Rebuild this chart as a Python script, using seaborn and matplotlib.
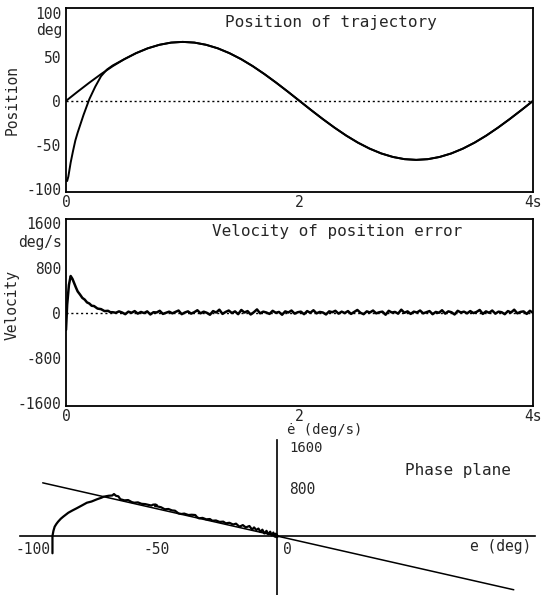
import matplotlib
matplotlib.use("Agg")
import matplotlib.pyplot as plt
import seaborn as sns
import numpy as np

# --- position of trajectory (deg) ---
ref_t = [0.0, 0.1, 0.2, 0.3, 0.4, 0.5, 0.6, 0.7, 0.8, 0.9, 1.0,
         1.1, 1.2, 1.3, 1.4, 1.5, 1.6, 1.7, 1.8, 1.9, 2.0,
         2.1, 2.2, 2.3, 2.4, 2.5, 2.6, 2.7, 2.8, 2.9, 3.0,
         3.1, 3.2, 3.3, 3.4, 3.5, 3.6, 3.7, 3.8, 3.9, 4.0]
ref_pos = [0, 10.5, 20.7, 30.4, 39.4, 47.4, 54.2, 59.7, 63.7, 66.2, 67.0,
           66.2, 63.7, 59.7, 54.2, 47.4, 39.4, 30.4, 20.7, 10.5, 0,
           -10.5, -20.7, -30.4, -39.4, -47.4, -54.2, -59.7, -63.7, -66.2, -67.0,
           -66.2, -63.7, -59.7, -54.2, -47.4, -39.4, -30.4, -20.7, -10.5, 0]
act_t = [0.0, 0.01, 0.02, 0.04, 0.06, 0.08, 0.1, 0.12, 0.15, 0.2, 0.25, 0.3, 0.35, 0.4] + ref_t[5:]
act_pos = [-90, -91, -86, -70, -57, -45, -36, -28, -16, 2, 16, 28, 35.5, 40.2] + ref_pos[5:]

# --- velocity of position error (deg/s) ---
vel_t0 = [0.0, 0.01, 0.025, 0.04, 0.055, 0.07, 0.085, 0.1, 0.12, 0.14,
          0.16, 0.18, 0.2, 0.22, 0.24, 0.27, 0.3, 0.33, 0.36, 0.38]
vel_v0 = [-300, 150, 500, 660, 610, 530, 455, 385, 330, 270,
          240, 190, 170, 130, 125, 80, 70, 35, 40, 15]
vel_noise = [15, 5, 30, 10, -20, 25, 5, 35, -10, 20,
             0, 30, -25, 15, 10, 40, -15, 5, 25, -5,
             20, 45, -20, 10, 30, -10, 15, 50, -5, 25,
             5, -30, 35, 10, 60, -15, 20, 45, 0, 30,
             -20, 55, 10, 35, -25, 15, 65, -5, 25, 10,
             -15, 40, 5, 20, -30, 30, 10, 45, -10, 15,
             25, -20, 35, 5, 50, -5, 20, 10, -25, 30,
             15, 40, -10, 25, 0, 35, -15, 20, 55, 5,
             -20, 30, 10, 45, -5, 15, 25, -30, 40, 10,
             20, -10, 60, 5, 30, -15, 25, 10, 45, -5,
             15, 35, -20, 20, 5, 50, -10, 30, 15, -25,
             40, 10, 25, -5, 35, 0, 20, 55, -15, 30,
             5, 45, -10, 25, 15, -20, 35, 10, 60, -5,
             20, 30, -15, 40, 5]
vel_tn = np.linspace(0.4, 4.0, len(vel_noise))

# --- phase plane ---
ph_e = [-92, -92, -92, -91.6, -91.1, -90.4, -89.7, -88.6, -87.6, -85.5,
        -83.8, -82.1, -80, -77.9, -76, -73.75, -72, -71, -69, -67.5,
        -66.8, -66, -65, -64.2, -62.5, -61, -59.5, -58.5, -57, -55.5,
        -54, -52.5, -51.5, -50.8, -49.8, -49.2, -50, -49, -47.5, -46,
        -44.5, -43, -41.8, -40.4, -39.2, -38, -36.3, -35, -33.5, -32.8,
        -32, -30.5, -29, -27.5, -26.5, -25, -23.5, -22, -21, -19.5,
        -18, -16.8, -15.4, -14, -12.8, -11.3, -10.2, -9.4, -8.5, -7.6,
        -6.8, -6, -5.2, -4.3, -3.6, -2.8, -2.1, -1.5, -1, -0.6,
        -0.3, 0, 0.2, -0.2, 0.1]
ph_ed = [-300, -150, 0, 90, 162, 210, 249, 300, 336, 405,
         445, 482, 530, 579, 600, 639, 665, 684, 700, 705,
         730, 700, 690, 640, 620, 625, 590, 579, 585, 560,
         555, 540, 530, 545, 548, 535, 522, 515, 500, 465,
         470, 445, 440, 395, 383, 390, 365, 370, 365, 330,
         308, 315, 290, 295, 266, 270, 245, 250, 221, 230,
         200, 215, 162, 190, 150, 174, 110, 150, 104, 130,
         70, 110, 45, 90, 30, 75, 10, 60, -10, 40,
         -20, 20, -15, 30, 0]
line_e = [-96, 97]
line_ed = [925, -935]

sns.set_style("white")
plt.rcParams["font.family"] = ["DejaVu Sans Mono", "DejaVu Sans"]
plt.rcParams["axes.unicode_minus"] = False
FS = 10.5

W, H = 550, 595
fig = plt.figure(figsize=(5.5, 5.95), dpi=100)


def px_rect(x0, y0, x1, y1):
    return [x0 / W, 1 - y1 / H, (x1 - x0) / W, (y1 - y0) / H]


def ftext(x, y, s, **kw):
    kw.setdefault("fontsize", FS)
    fig.text(x / W, 1 - y / H, s, va="center", **kw)


def box_style(ax):
    for sp in ax.spines.values():
        sp.set_linewidth(1.3)
        sp.set_color("k")
    ax.set_xlim(0, 4)
    ax.set_xticks([0, 1, 2, 3, 4])
    ax.set_xticklabels(["0", "", "2", "", "4s"])
    ax.tick_params(axis="x", direction="in", length=3, width=1, pad=2.5, labelsize=FS)
    ax.tick_params(axis="y", direction="out", length=2, width=1, pad=1.5, labelsize=FS)
    ax.axhline(0, color="k", lw=1, ls=(0, (1.5, 2)))
    ax.set_xlabel("")
    ax.set_ylabel("")


# top: position
ax1 = fig.add_axes(px_rect(66, 8, 533, 192))
sns.lineplot(x=ref_t, y=ref_pos, ax=ax1, color="k", lw=1.4, estimator=None)
sns.lineplot(x=act_t, y=act_pos, ax=ax1, color="k", lw=1.4, estimator=None)
box_style(ax1)
ax1.set_ylim(-103.5, 105.5)
ax1.set_yticks([-100, -50, 0, 50, 100])
ftext(225, 22, "Position of trajectory", fontsize=11.5)
ftext(12, 100, "Position", rotation=90, ha="center")
ftext(62, 30, "deg", ha="right")

# middle: velocity
ax2 = fig.add_axes(px_rect(66, 219, 533, 406))
sns.lineplot(x=list(vel_t0) + list(vel_tn), y=vel_v0 + vel_noise, ax=ax2,
             color="k", lw=1.8, estimator=None)
box_style(ax2)
ax2.set_ylim(-1655, 1675)
ax2.set_yticks([-1600, -800, 0, 800, 1600])
ftext(212, 232, "Velocity of position error", fontsize=11.5)
ftext(12, 305, "Velocity", rotation=90, ha="center")
ftext(62, 242, "deg/s", ha="right")

# bottom: phase plane
ax3 = fig.add_axes(px_rect(20, 440, 535, 595))
sns.lineplot(x=line_e, y=line_ed, ax=ax3, color="k", lw=1.1, estimator=None)
sns.lineplot(x=ph_e, y=ph_ed, ax=ax3, color="k", lw=1.6, sort=False, estimator=None)
ax3.set_xlim(-105.3, 105.7)
ax3.set_ylim(-1026, 1670)
ax3.spines["left"].set_position(("data", 0))
ax3.spines["bottom"].set_position(("data", 0))
ax3.spines["right"].set_visible(False)
ax3.spines["top"].set_visible(False)
for sp in ("left", "bottom"):
    ax3.spines[sp].set_linewidth(1.2)
    ax3.spines[sp].set_color("k")
ax3.set_xticks([-100, -50, 50])
ax3.set_yticks([-800, 800, 1600])
ax3.set_xticklabels([])
ax3.set_yticklabels([])
ax3.tick_params(direction="inout", length=5, width=1)
ax3.set_xlabel("")
ax3.set_ylabel("")
ftext(33, 549, "-100", ha="center")
ftext(157, 549, "-50", ha="center")
ftext(283, 550, "0", ha="left")
ftext(289, 448, "1600", ha="left", fontsize=10)
ftext(289, 490, "800", ha="left")
ftext(287, 430, "ė (deg/s)", ha="left", fontsize=10)
ftext(470, 547, "e (deg)", ha="left")
ftext(405, 471, "Phase plane", ha="left", fontsize=11.5)

fig.savefig("out.png", dpi=100, facecolor="white")
